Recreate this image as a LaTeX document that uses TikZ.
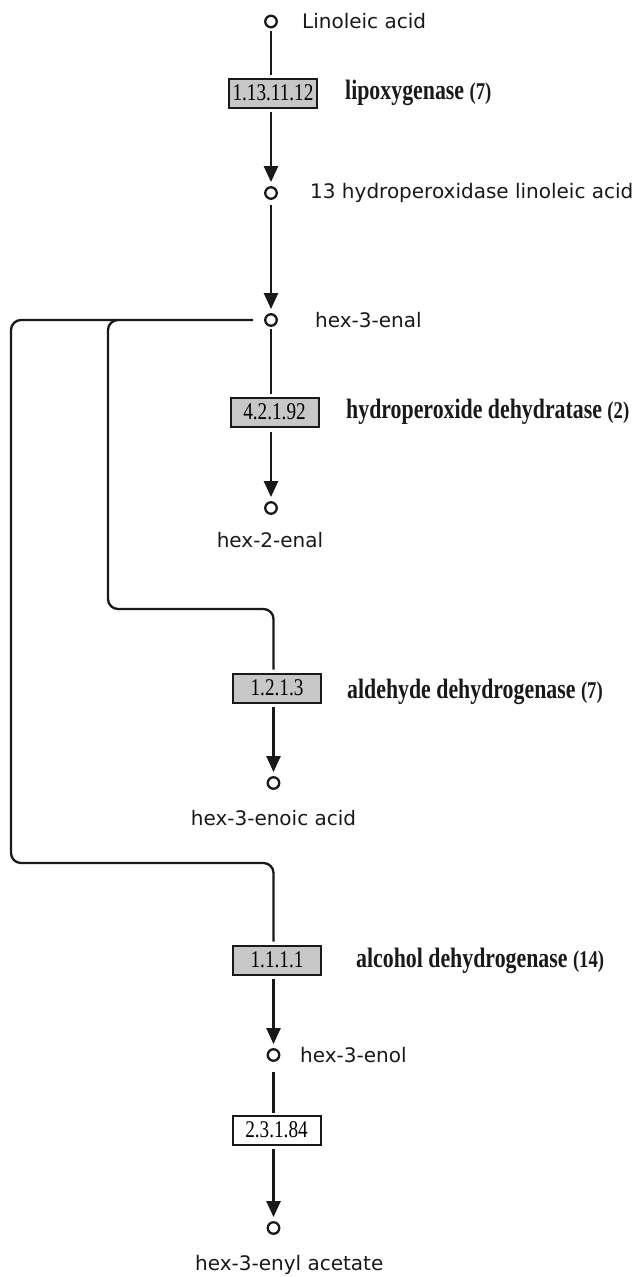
\documentclass[tikz,border=0pt]{standalone}
\usepackage{fontspec}
\usepackage{graphicx}
\usetikzlibrary{arrows.meta}
\newfontfamily\metfont{DejaVu Sans}
\newfontfamily\enzfont{Liberation Serif}
% EC number inside a reaction box (narrow serif digits)
\newcommand{\ecno}[1]{\scalebox{0.8}[1]{\fontsize{24}{24}\selectfont\enzfont #1}}
% enzyme name with gene count
\newcommand{\enzname}[2]{\scalebox{0.78}[1]{\fontsize{28}{28}\selectfont\enzfont\bfseries #1\ \fontsize{24}{24}\selectfont #2}}
\begin{document}
\begin{tikzpicture}[x=1pt,y=-1pt,
  link/.style={line width=2.3pt, draw=black!90},
  flow/.style={link, -{Triangle[length=16pt,width=14pt]}},
  met/.style={circle, draw=black!90, line width=2.3pt, minimum size=11.5pt, inner sep=0pt, fill=white},
  ecbox/.style={draw=black!90, line width=2pt, fill=black!22, minimum width=88pt, minimum height=29pt, inner sep=0pt},
  ecwhite/.style={ecbox, fill=white},
  metlabel/.style={font=\metfont\fontsize{20}{20}\selectfont, text=black!90, inner sep=0pt},
  enzlabel/.style={text=black!90, inner sep=0pt, anchor=west}
]
\useasboundingbox (0,0) rectangle (642,1277);

% compounds
\node[met] (c1) at (271,21.5) {};
\node[met] (c2) at (271,193) {};
\node[met] (c3) at (271,320) {};
\node[met] (c4) at (271,508) {};
\node[met] (c5) at (273.5,783) {};
\node[met] (c6) at (273.5,1055) {};
\node[met] (c7) at (273.5,1228) {};

% compound names
\node[metlabel, anchor=west] (l1) at (302,21.5) {Linoleic acid};
\node[metlabel, anchor=west] (l2) at (310,193) {13 hydroperoxidase linoleic acid};
\node[metlabel, anchor=west] (l3) at (315,320) {hex-3-enal};
\node[metlabel] (l4) at (270,540) {hex-2-enal};
\node[metlabel] (l5) at (273.5,818) {hex-3-enoic acid};
\node[metlabel, anchor=west] (l6) at (300,1055) {hex-3-enol};
\node[metlabel, anchor=west] (l7) at (195,1265) {hex-3-enyl acetate};

% reaction boxes
\node[ecbox] (e1) at (273,93) {\ecno{1.13.11.12}};
\node[ecbox] (e2) at (274.5,412) {\ecno{4.2.1.92}};
\node[ecbox] (e3) at (277,688) {\ecno{1.2.1.3}};
\node[ecbox] (e4) at (277,960) {\ecno{1.1.1.1}};
\node[ecwhite] (e5) at (276.5,1130) {\ecno{2.3.1.84}};

% enzyme names
\node[enzlabel] (n1) at (345,93) {\enzname{lipoxygenase}{(7)}};
\node[enzlabel] (n2) at (346,412) {\enzname{hydroperoxide dehydratase}{(2)}};
\node[enzlabel] (n3) at (347,692) {\enzname{aldehyde dehydrogenase}{(7)}};
\node[enzlabel] (n4) at (356,961) {\enzname{alcohol dehydrogenase}{(14)}};

% main chain
\draw[link, shorten <=3pt, shorten >=3pt] (c1) -- (c1 |- e1.north);
\draw[flow, shorten <=3pt, shorten >=4pt] (c2 |- e1.south) -- (c2);
\draw[flow, shorten <=5pt, shorten >=4pt] (c2) -- (c3);
\draw[link, shorten <=2pt, shorten >=3pt] (c3) -- (c3 |- e2.north);
\draw[flow, shorten <=4pt, shorten >=4pt] (c4 |- e2.south) -- (c4);

% branches leaving hex-3-enal
\coordinate (j1) at (118,320);
\coordinate (bl) at (108,609);
\coordinate (wl) at (11,863);
\draw[link, rounded corners=10pt, shorten <=11pt, shorten >=3pt] (c3) -| (wl) -| (c5 |- e4.north);
\draw[link, rounded corners=10pt, shorten >=3pt] (j1) -| (bl) -| (c5 |- e3.north);

% lower reactions
\draw[flow, shorten <=3pt, shorten >=4pt] (c5 |- e3.south) -- (c5);
\draw[flow, shorten <=3pt, shorten >=4pt] (c6 |- e4.south) -- (c6);
\draw[link, shorten <=10pt, shorten >=2pt] (c6) -- (c6 |- e5.north);
\draw[flow, shorten <=3pt, shorten >=4pt] (c7 |- e5.south) -- (c7);
\end{tikzpicture}
\end{document}
